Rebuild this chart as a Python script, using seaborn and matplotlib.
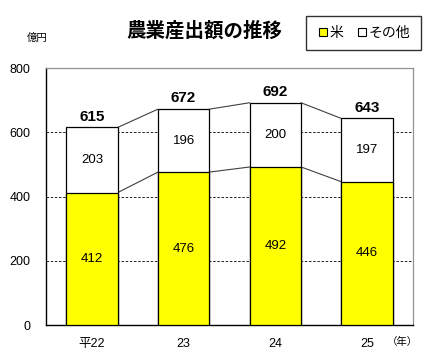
import matplotlib
matplotlib.use("Agg")
import matplotlib.pyplot as plt
from matplotlib.lines import Line2D
import seaborn as sns
import pandas as pd

years = ["平22", "23", "24", "25"]
rice = [412, 476, 492, 446]
other = [203, 196, 200, 197]
total = [615, 672, 692, 643]

sns.set_style("white")
plt.rcParams["font.family"] = ["Liberation Sans", "Noto Sans CJK JP"]
plt.rcParams["text.color"] = "black"
plt.rcParams["xtick.color"] = "black"
plt.rcParams["ytick.color"] = "black"
plt.rcParams["xtick.labelcolor"] = "black"
plt.rcParams["ytick.labelcolor"] = "black"

df = pd.DataFrame({"year": years, "rice": rice, "other": other, "total": total})

fig = plt.figure(figsize=(4.24, 3.62), dpi=100)
ax = fig.add_axes([0.1085, 0.1022, 0.8655, 0.7098])

bw = 0.56
sns.barplot(data=df, x="year", y="total", color="white", edgecolor="black",
            linewidth=0.9, width=bw, saturation=1, ax=ax, zorder=3)
sns.barplot(data=df, x="year", y="rice", color="#ffff00", edgecolor="black",
            linewidth=0.9, width=bw, saturation=1, ax=ax, zorder=3)

# series lines between bars
for i in range(len(years) - 1):
    for col in ("rice", "total"):
        ax.plot([i + bw / 2, i + 1 - bw / 2], [df[col][i], df[col][i + 1]],
                color="#404040", lw=0.8, zorder=2)

for i in range(len(years)):
    ax.text(i, rice[i] / 2, str(rice[i]), ha="center", va="center",
            fontsize=9.5, zorder=4)
    ax.text(i, rice[i] + other[i] / 2, str(other[i]), ha="center", va="center",
            fontsize=9.5, zorder=4)
    ax.text(i, total[i] + 12, str(total[i]), ha="center", va="bottom",
            fontsize=11, fontweight="bold", zorder=4)

ax.set_ylim(0, 800)
ax.set_xlim(-0.5, 3.5)
ax.set_yticks([0, 200, 400, 600, 800])
ax.yaxis.grid(True, linestyle=(0, (3, 2)), color="black", lw=0.6)
ax.set_axisbelow(True)
ax.set_xlabel("")
ax.set_ylabel("")
ax.tick_params(axis="y", length=0, labelsize=9, pad=11)
ax.set_xticks([0, 1, 2, 3])
ax.set_xticklabels(years)
ax.tick_params(axis="x", length=0, labelsize=9, pad=9)
ax.set_xticks([0.5, 1.5, 2.5], minor=True)
ax.tick_params(axis="x", which="minor", direction="in", length=4, color="black")

for s in ("top", "right"):
    ax.spines[s].set_color("#909090")
    ax.spines[s].set_linewidth(0.9)
for s in ("left", "bottom"):
    ax.spines[s].set_color("black")
    ax.spines[s].set_linewidth(1.0)

fig.text(0.483, 0.915, "農業産出額の推移", ha="center", va="center",
         fontsize=14, fontweight="bold", family="Noto Sans CJK JP")
fig.text(0.087, 0.895, "億円", ha="center", va="center", fontsize=7.5,
         family="Noto Sans CJK JP")
fig.text(0.95, 0.055, "（年）", ha="center", va="center", fontsize=7.5,
         family="Noto Sans CJK JP")

handles = [
    Line2D([], [], marker="s", ls="", markerfacecolor="#ffff00",
           markeredgecolor="black", markersize=6, markeredgewidth=0.8),
    Line2D([], [], marker="s", ls="", markerfacecolor="white",
           markeredgecolor="black", markersize=6, markeredgewidth=0.8),
]
leg = fig.legend(handles, ["米", "その他"], loc="center", ncol=2,
                 bbox_to_anchor=(0.857, 0.909), frameon=True, fancybox=False,
                 edgecolor="black", fontsize=10, handletextpad=0.0,
                 columnspacing=0.8, handlelength=1.0, borderpad=0.75,
                 prop={"family": "Noto Sans CJK JP", "size": 10})
leg.get_frame().set_linewidth(1.0)

fig.savefig("out.png", dpi=100)
